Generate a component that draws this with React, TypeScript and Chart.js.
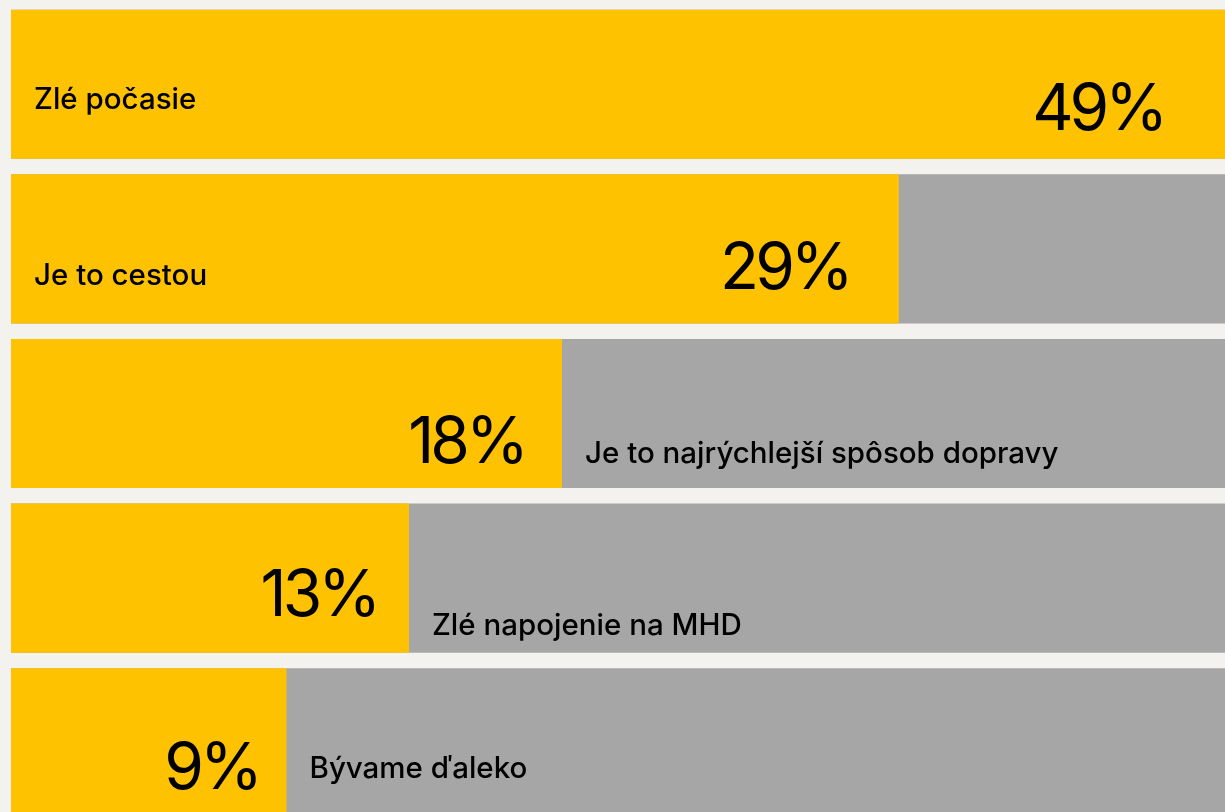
import React, { useEffect, useRef } from "react";
import { Chart, registerables } from "chart.js";

Chart.register(...registerables);

const categories = [
  "Zlé počasie",
  "Je to cestou",
  "Je to najrýchlejší spôsob dopravy",
  "Zlé napojenie na MHD",
  "Bývame ďaleko",
];
const values = [49, 29, 18, 13, 9];
const valueLabels = ["49%", "29%", "18%", "13%", "9%"];

const YELLOW = "#FFC200";
const GRAY = "#A6A6A6";
const BG = "#F3F2EE";

const labelPlugin = {
  id: "barLabels",
  afterDatasetsDraw(chart: any) {
    const ctx = chart.ctx;
    const meta = chart.getDatasetMeta(0);
    const area = chart.chartArea;
    const canvasLeft = chart.canvas.getBoundingClientRect().left;
    const visibleRight = window.innerWidth - canvasLeft;
    const pctBaseNudge = [46, 40, 49, 38, 46];
    const labelBaseNudge = [25, 36, 49, 57, 35];
    ctx.save();
    meta.data.forEach((el: any, i: number) => {
      const barEnd = el.x;
      const base = el.base;
      const cy = el.y;
      const width = barEnd - base;
      // percentage
      ctx.font = "400 64px Inter";
      (ctx as any).letterSpacing = "-4px";
      ctx.fillStyle = "#000";
      ctx.textAlign = "right";
      ctx.textBaseline = "alphabetic";
      const gap = 20 + 0.035 * width;
      const right = Math.min(barEnd - gap, visibleRight - 63) + 2;
      ctx.fillText(valueLabels[i], right, cy + pctBaseNudge[i]);
      // category label
      (ctx as any).letterSpacing = "0px";
      ctx.font = "500 29.5px Inter";
      ctx.textAlign = "left";
      const inside = values[i] >= 20;
      const lx = inside ? area.left + 23 : barEnd + 23;
      ctx.fillText(categories[i], lx, cy + labelBaseNudge[i]);
    });
    ctx.restore();
  },
};

export default function App() {
  const ref = useRef<HTMLCanvasElement | null>(null);
  useEffect(() => {
    document.body.style.margin = "0";
    document.body.style.overflow = "hidden";
    document.body.style.background = BG;
    const maxVal = Math.max(...values);
    const chart = new Chart(ref.current!, {
      type: "bar",
      data: {
        labels: categories,
        datasets: [
          {
            data: values,
            backgroundColor: YELLOW,
            borderWidth: 0,
            order: 0,
            barPercentage: 1,
            categoryPercentage: 0.906,
          },
          {
            data: values.map(() => maxVal),
            backgroundColor: GRAY,
            borderWidth: 0,
            order: 1,
            barPercentage: 1,
            categoryPercentage: 0.906,
          },
        ],
      },
      options: {
        indexAxis: "y",
        animation: false,
        responsive: false,
        maintainAspectRatio: false,
        events: [],
        layout: { padding: 0 },
        datasets: { bar: { grouped: false } } as any,
        plugins: {
          legend: { display: false },
          tooltip: { enabled: false },
        },
        scales: {
          x: { display: false, min: 0, max: maxVal },
          y: { display: false },
        },
      },
      plugins: [labelPlugin],
    });
    return () => chart.destroy();
  }, []);
  return (
    <div
      style={{
        position: "fixed",
        inset: 0,
        background: BG,
        overflow: "hidden",
      }}
    >
      <div style={{ position: "absolute", left: 11, top: 1.5, width: 1500, height: 823 }}>
        <canvas ref={ref} width={1500} height={823} style={{ width: 1500, height: 823 }} />
      </div>
    </div>
  );
}
